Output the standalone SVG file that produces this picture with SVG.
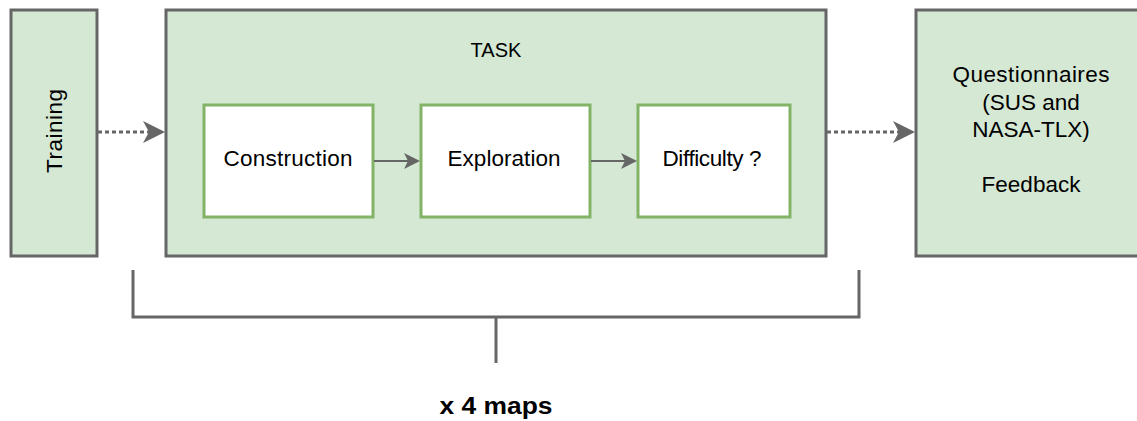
<svg xmlns="http://www.w3.org/2000/svg" width="1137" height="421" viewBox="0 0 1137 421">
<style>
.outer{fill:#d5e8d4;stroke:#666666;stroke-width:3}
.inner{fill:#ffffff;stroke:#82b366;stroke-width:3}
.t{font-family:"Liberation Sans",Arial,sans-serif;font-size:22.5px;fill:#000000;text-anchor:middle}
.dot{fill:none;stroke:#666666;stroke-width:3;stroke-dasharray:4 3}
.solid{fill:none;stroke:#666666;stroke-width:2}
.br{fill:none;stroke:#666666;stroke-width:3}
</style>
<defs>
<marker id="big" markerUnits="userSpaceOnUse" markerWidth="26" markerHeight="26" viewBox="0 -13 26 26" refX="6" refY="0" orient="auto">
<path d="M0,-11 L22,0 L0,11 L6,0 Z" fill="#666666"/>
</marker>
<marker id="small" markerUnits="userSpaceOnUse" markerWidth="18" markerHeight="18" viewBox="0 -9 18 18" refX="4" refY="0" orient="auto">
<path d="M0,-8 L16,0 L0,8 L4,0 Z" fill="#666666"/>
</marker>
</defs>
<g id="training">
<rect class="outer" x="11" y="10" width="86" height="246"/>
<text class="t" transform="translate(62,131) rotate(-90)" textLength="84" lengthAdjust="spacing">Training</text>
</g>
<g id="task">
<rect class="outer" x="166" y="10" width="660" height="246"/>
<text class="t" x="496" y="57" style="font-size:20px">TASK</text>
</g>
<g id="construction">
<rect class="inner" x="204" y="105" width="169" height="112"/>
<text class="t" x="288" y="166" textLength="129" lengthAdjust="spacing">Construction</text>
</g>
<g id="exploration">
<rect class="inner" x="421" y="105" width="169" height="112"/>
<text class="t" x="504" y="166" textLength="113" lengthAdjust="spacing">Exploration</text>
</g>
<g id="difficulty">
<rect class="inner" x="638" y="105" width="152" height="112"/>
<text class="t" x="712" y="166" textLength="99" lengthAdjust="spacing">Difficulty ?</text>
</g>
<g id="questionnaires">
<rect class="outer" x="916" y="10" width="230" height="246"/>
<text class="t" x="1031" y="82" textLength="157" lengthAdjust="spacing">Questionnaires</text>
<text class="t" x="1031" y="110">(SUS and</text>
<text class="t" x="1031" y="137">NASA-TLX)</text>
<text class="t" x="1031" y="192">Feedback</text>
</g>
<g id="connectors">
<path class="dot" d="M98,132 H149" marker-end="url(#big)"/>
<path class="dot" d="M827,132 H899" marker-end="url(#big)"/>
<path class="solid" d="M374,161 H408" marker-end="url(#small)"/>
<path class="solid" d="M591,161 H625" marker-end="url(#small)"/>
</g>
<g id="bracket">
<path class="br" d="M133,270 V317 H859 V270"/>
<path class="br" d="M496,317 V363"/>
<text x="496" y="414" textLength="113" lengthAdjust="spacingAndGlyphs" style="font-family:'Liberation Sans',Arial,sans-serif;font-size:23px;font-weight:bold;text-anchor:middle;fill:#000">x 4 maps</text>
</g>
</svg>
